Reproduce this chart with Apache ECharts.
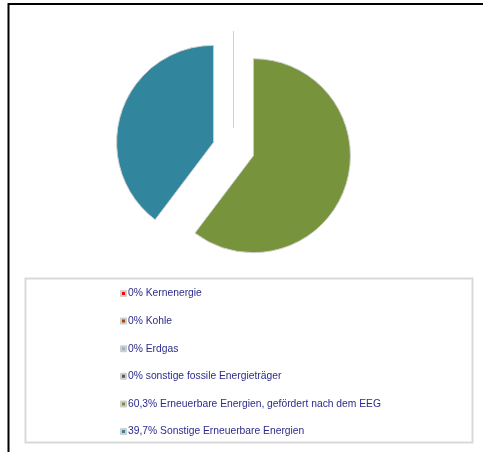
<!DOCTYPE html>
<html>
<head>
<meta charset="utf-8">
<script src="https://cdn.jsdelivr.net/npm/echarts@6/dist/echarts.min.js"></script>
<style>
html, body { margin: 0; padding: 0; background: #fff; }
#main { width: 483px; height: 452px; }
</style>
</head>
<body>
<div id="main"></div>
<script>
var names = ['Kernenergie', 'Kohle', 'Erdgas', 'sonstige fossile Energieträger',
    'Erneuerbare Energien, gefördert nach dem EEG', 'Sonstige Erneuerbare Energien'];
var shares = [0, 0, 0, 0, 60.3, 39.7];
var colors = ['#ff0000', '#9a4a0c', '#95b3d7', '#595959', '#77933c', '#31859c'];

function pct(v) {
    return String(v).replace('.', ',') + '%';
}

var labels = names.map(function (n, i) { return pct(shares[i]) + ' ' + n; });

echarts.init(document.getElementById('main')).setOption({
    animation: false,
    graphic: [
        // black frame, only left and top edges visible
        { type: 'line', shape: { x1: 8.5, y1: 3, x2: 8.5, y2: 452 }, style: { stroke: '#000', lineWidth: 2 } },
        { type: 'line', shape: { x1: 8, y1: 4, x2: 483, y2: 4 }, style: { stroke: '#000', lineWidth: 2 } },
        // legend box
        { type: 'rect', shape: { x: 25.5, y: 278.5, width: 447, height: 164 },
          style: { fill: 'none', stroke: '#d9d9d9', lineWidth: 2 } }
    ],
    legend: {
        orient: 'vertical',
        left: 115,
        top: 283,
        itemWidth: 5,
        itemHeight: 5,
        itemGap: 16.6,
        icon: 'rect',
        selectedMode: false,
        data: labels,
        textStyle: {
            color: '#2b2b8c',
            fontFamily: 'Liberation Sans',
            fontSize: 10.3,
            lineHeight: 11,
            padding: [0, 0, 0, -3]
        }
    },
    series: [{
        type: 'pie',
        center: [233.5, 149],
        radius: 97,
        selectedMode: 'multiple',
        selectedOffset: 21,
        label: { show: false },
        labelLine: { show: false },
        emphasis: { disabled: true },
        itemStyle: { borderColor: '#cfcfcf', borderWidth: 1 },
        data: labels.map(function (l, i) {
            return { name: l, value: shares[i], selected: true, itemStyle: { color: colors[i] } };
        })
    }]
});
</script>
</body>
</html>
